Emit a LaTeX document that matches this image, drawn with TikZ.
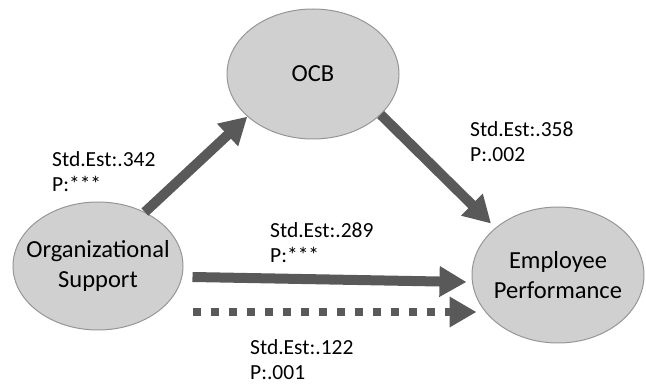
\documentclass[tikz,border=0pt]{standalone}
\usepackage{fontspec}
\setmainfont{Carlito}
\usetikzlibrary{shapes.geometric,arrows.meta}
\definecolor{bubble}{RGB}{208,208,208}
\definecolor{rim}{RGB}{150,150,150}
\definecolor{ink}{RGB}{89,89,89}
\begin{document}
\begin{tikzpicture}[x=1pt,y=1pt,
  construct/.style={ellipse, draw=rim, fill=bubble, line width=1pt, inner sep=0pt},
  nametext/.style={font=\fontsize{24.5}{30}\selectfont, align=center},
  effect/.style={draw=ink, line width=10pt, -{Triangle[length=27pt,width=29pt]}},
  weak/.style={effect, line width=8.5pt, dash pattern=on 8pt off 10pt},
  % anchored on the baseline of the last line
  est/.style={font=\fontsize{21.5}{25.5}\selectfont, align=left, anchor=base west, inner sep=0pt}]
\useasboundingbox (0,0) rectangle (646,386);

% latent constructs
\node[construct, minimum width=172pt, minimum height=130pt,
      label={[nametext]center:OCB}] (ocb) at (313,312) {};
\node[construct, minimum width=170pt, minimum height=128pt,
      label={[nametext]center:Organizational\\Support}] (org) at (98,120) {};
\node[construct, minimum width=172pt, minimum height=136pt,
      label={[nametext]center:Employee\\Performance}] (ep) at (558,111) {};

% structural paths
\draw[effect] (org.49) -- (ocb.213.5);
\draw[effect, shorten >=6pt] (ocb.-31.5) -- (ep.143.7);
\draw[effect] ([xshift=9pt,yshift=-11pt]org.east) -- ([xshift=-5pt,yshift=-7pt]ep.west);
\draw[weak] ([xshift=9pt,yshift=-46pt]org.east) -- ([xshift=5pt,yshift=-37pt]ep.west);

% estimates
\node[est] (e1) at (52,194) {Std.Est:.342\\P:***};
\node[est] (e2) at (470,224) {Std.Est:.358\\P:.002};
\node[est] (e3) at (270,123) {Std.Est:.289\\P:***};
\node[est] (e4) at (250,6) {Std.Est:.122\\P:.001};
\end{tikzpicture}
\end{document}
